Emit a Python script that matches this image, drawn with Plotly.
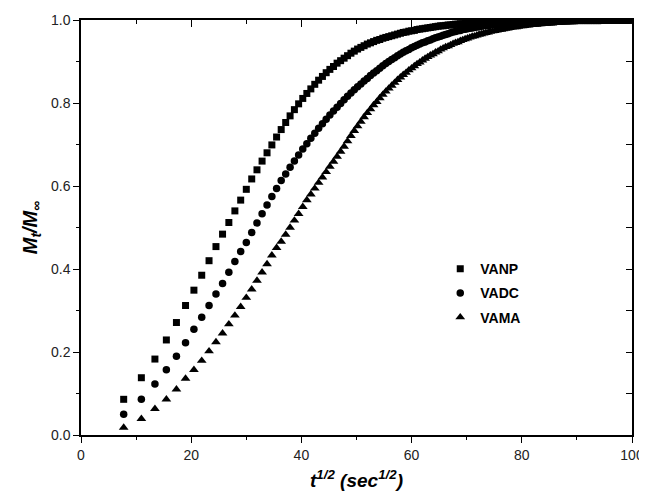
import math
import plotly.graph_objects as go

# sampling times (minutes); the chart's x axis is t^(1/2) in sec^(1/2)
time_min = list(range(1, 167))

vanp = [0.086, 0.138, 0.183, 0.229, 0.271, 0.312, 0.349, 0.385, 0.420, 0.454,
        0.484, 0.512, 0.540, 0.566, 0.592, 0.617, 0.639, 0.660, 0.680, 0.699,
        0.718, 0.736, 0.753, 0.769, 0.784, 0.798, 0.811, 0.823, 0.834, 0.845,
        0.855, 0.864, 0.873, 0.881, 0.888, 0.896, 0.902, 0.908, 0.914, 0.920,
        0.925, 0.930, 0.934, 0.938, 0.942, 0.945, 0.948, 0.951, 0.953, 0.956,
        0.958, 0.960, 0.962, 0.964, 0.966, 0.968, 0.970, 0.971, 0.973, 0.974,
        0.975, 0.977, 0.978, 0.979, 0.980, 0.981, 0.982, 0.983, 0.984, 0.985,
        0.986, 0.986, 0.987, 0.988, 0.988, 0.989, 0.990, 0.990, 0.991, 0.991,
        0.992, 0.992, 0.992, 0.993, 0.993, 0.994, 0.994, 0.994, 0.995, 0.995,
        0.995, 0.995, 0.996, 0.996, 0.996, 0.996, 0.996, 0.997, 0.997, 0.997,
        0.997, 0.997, 0.997, 0.998, 0.998, 0.998, 0.998, 0.998, 0.998, 0.998,
        0.998, 0.998, 0.999, 0.999, 0.999, 0.999, 0.999, 0.999, 0.999, 0.999,
        0.999, 0.999, 0.999, 0.999, 0.999, 0.999, 0.999, 0.999, 0.999, 0.999,
        0.999, 0.999, 1.000, 1.000, 1.000, 1.000, 1.000, 1.000, 1.000, 1.000,
        1.000, 1.000, 1.000, 1.000, 1.000, 1.000, 1.000, 1.000, 1.000, 1.000,
        1.000, 1.000, 1.000, 1.000, 1.000, 1.000, 1.000, 1.000, 1.000, 1.000,
        1.000, 1.000, 1.000, 1.000, 1.000, 1.000]

vadc = [0.050, 0.086, 0.123, 0.157, 0.190, 0.222, 0.255, 0.284, 0.312, 0.340,
        0.365, 0.392, 0.418, 0.442, 0.464, 0.488, 0.511, 0.533, 0.554, 0.575,
        0.594, 0.613, 0.629, 0.645, 0.660, 0.675, 0.689, 0.702, 0.715, 0.727,
        0.739, 0.750, 0.761, 0.771, 0.781, 0.790, 0.799, 0.808, 0.816, 0.824,
        0.832, 0.839, 0.846, 0.853, 0.859, 0.866, 0.872, 0.878, 0.884, 0.890,
        0.895, 0.900, 0.905, 0.909, 0.914, 0.918, 0.922, 0.926, 0.929, 0.933,
        0.936, 0.939, 0.942, 0.945, 0.947, 0.950, 0.952, 0.955, 0.957, 0.959,
        0.961, 0.963, 0.965, 0.967, 0.969, 0.971, 0.972, 0.974, 0.975, 0.977,
        0.978, 0.979, 0.980, 0.981, 0.982, 0.983, 0.984, 0.985, 0.986, 0.987,
        0.987, 0.988, 0.989, 0.989, 0.990, 0.991, 0.991, 0.992, 0.992, 0.992,
        0.993, 0.993, 0.994, 0.994, 0.994, 0.995, 0.995, 0.995, 0.995, 0.996,
        0.996, 0.996, 0.996, 0.997, 0.997, 0.997, 0.997, 0.997, 0.997, 0.998,
        0.998, 0.998, 0.998, 0.998, 0.998, 0.998, 0.998, 0.998, 0.999, 0.999,
        0.999, 0.999, 0.999, 0.999, 0.999, 0.999, 0.999, 0.999, 0.999, 0.999,
        0.999, 0.999, 0.999, 0.999, 0.999, 0.999, 0.999, 0.999, 1.000, 1.000,
        1.000, 1.000, 1.000, 1.000, 1.000, 1.000, 1.000, 1.000, 1.000, 1.000,
        1.000, 1.000, 1.000, 1.000, 1.000, 1.000]

vama = [0.018, 0.039, 0.063, 0.086, 0.110, 0.136, 0.157, 0.179, 0.202, 0.224,
        0.245, 0.267, 0.288, 0.309, 0.331, 0.351, 0.372, 0.392, 0.412, 0.433,
        0.451, 0.466, 0.483, 0.500, 0.517, 0.533, 0.550, 0.566, 0.580, 0.594,
        0.608, 0.621, 0.634, 0.647, 0.659, 0.671, 0.683, 0.695, 0.708, 0.721,
        0.733, 0.744, 0.755, 0.766, 0.776, 0.785, 0.795, 0.803, 0.812, 0.820,
        0.828, 0.835, 0.842, 0.849, 0.856, 0.862, 0.868, 0.873, 0.879, 0.884,
        0.889, 0.894, 0.898, 0.903, 0.907, 0.911, 0.915, 0.918, 0.922, 0.925,
        0.929, 0.932, 0.935, 0.937, 0.940, 0.943, 0.945, 0.947, 0.950, 0.952,
        0.954, 0.956, 0.958, 0.960, 0.961, 0.963, 0.965, 0.966, 0.968, 0.969,
        0.970, 0.972, 0.973, 0.974, 0.975, 0.976, 0.977, 0.978, 0.979, 0.980,
        0.981, 0.982, 0.983, 0.983, 0.984, 0.985, 0.985, 0.986, 0.987, 0.987,
        0.988, 0.988, 0.989, 0.989, 0.990, 0.990, 0.991, 0.991, 0.991, 0.992,
        0.992, 0.992, 0.993, 0.993, 0.993, 0.994, 0.994, 0.994, 0.994, 0.995,
        0.995, 0.995, 0.995, 0.996, 0.996, 0.996, 0.996, 0.996, 0.996, 0.997,
        0.997, 0.997, 0.997, 0.997, 0.997, 0.997, 0.997, 0.998, 0.998, 0.998,
        0.998, 0.998, 0.998, 0.998, 0.998, 0.998, 0.998, 0.998, 0.999, 0.999,
        0.999, 0.999, 0.999, 0.999, 0.999, 0.999]

series_names = ["VANP", "VADC", "VAMA"]
x_ticks = [0, 20, 40, 60, 80, 100]
y_ticks = [0.0, 0.2, 0.4, 0.6, 0.8, 1.0]

x_sqrt = [math.sqrt(60 * t) for t in time_min]

FONT = "Liberation Sans, Arial, sans-serif"

fig = go.Figure()
styles = [("square", 7), ("circle", 7.5), ("triangle-up", 8.5)]
for name, ys, (sym, size) in zip(series_names, [vanp, vadc, vama], styles):
    fig.add_trace(go.Scatter(
        x=x_sqrt, y=ys, mode="markers", name=name, legendgroup=name,
        marker=dict(symbol=sym, size=size, color="black", line=dict(width=0)),
    ))

# helper (empty) trace so the mirrored top/right axes with inward ticks are drawn
fig.add_trace(go.Scatter(x=[], y=[], xaxis="x2", yaxis="y2",
                         showlegend=False, hoverinfo="skip"))

common = dict(showgrid=False, zeroline=False, showline=True,
              linecolor="black", linewidth=1.5, tickcolor="black",
              tickwidth=1.2, automargin=False)

# the page body has an 8 px margin, so the figure is sized/offset to compensate
fig.update_layout(
    width=639, height=494,
    margin=dict(l=73, r=15, t=12, b=67),
    paper_bgcolor="white", plot_bgcolor="white",
    font=dict(family=FONT, color="#222", size=14),
    xaxis=dict(range=[0, 100], tickvals=x_ticks, ticks="outside", ticklen=6,
               minor=dict(dtick=10, tick0=0, ticks="outside", ticklen=3,
                          tickcolor="black", showgrid=False),
               tickfont=dict(size=14, family=FONT, color="#222"),
               title=dict(text="<b><i>t<sup>1/2</sup> (sec<sup>1/2</sup>)</i></b>",
                          font=dict(size=19, family=FONT, color="black"),
                          standoff=12),
               **common),
    yaxis=dict(range=[0, 1.0], tickvals=y_ticks, tickformat=".1f",
               ticks="outside", ticklen=6,
               minor=dict(dtick=0.1, tick0=0, ticks="outside", ticklen=3,
                          tickcolor="black", showgrid=False),
               tickfont=dict(size=14, family=FONT, color="#222"),
               title=dict(text="<b><i>M<sub>t</sub>/M<sub>∞</sub></i></b>",
                          font=dict(size=20, family=FONT, color="black"),
                          standoff=8),
               **common),
    xaxis2=dict(range=[0, 100], overlaying="x", side="top", anchor="y2",
                tickvals=x_ticks, ticks="inside", ticklen=7, showticklabels=False,
                minor=dict(dtick=10, tick0=0, ticks="inside", ticklen=4,
                           tickcolor="black", showgrid=False),
                **common),
    yaxis2=dict(range=[0, 1.0], overlaying="y", side="right", anchor="x2",
                tickvals=y_ticks, ticks="inside", ticklen=6, showticklabels=False,
                minor=dict(dtick=0.1, tick0=0, ticks="inside", ticklen=6,
                           tickcolor="black", showgrid=False),
                **common),
    legend=dict(x=0.652, y=0.438, xanchor="left", yanchor="top",
                bgcolor="rgba(0,0,0,0)", borderwidth=0,
                font=dict(size=14, family=FONT, color="black", weight="bold"),
                itemwidth=30, tracegroupgap=3),
    showlegend=True,
)

fig.write_html("out.html")
